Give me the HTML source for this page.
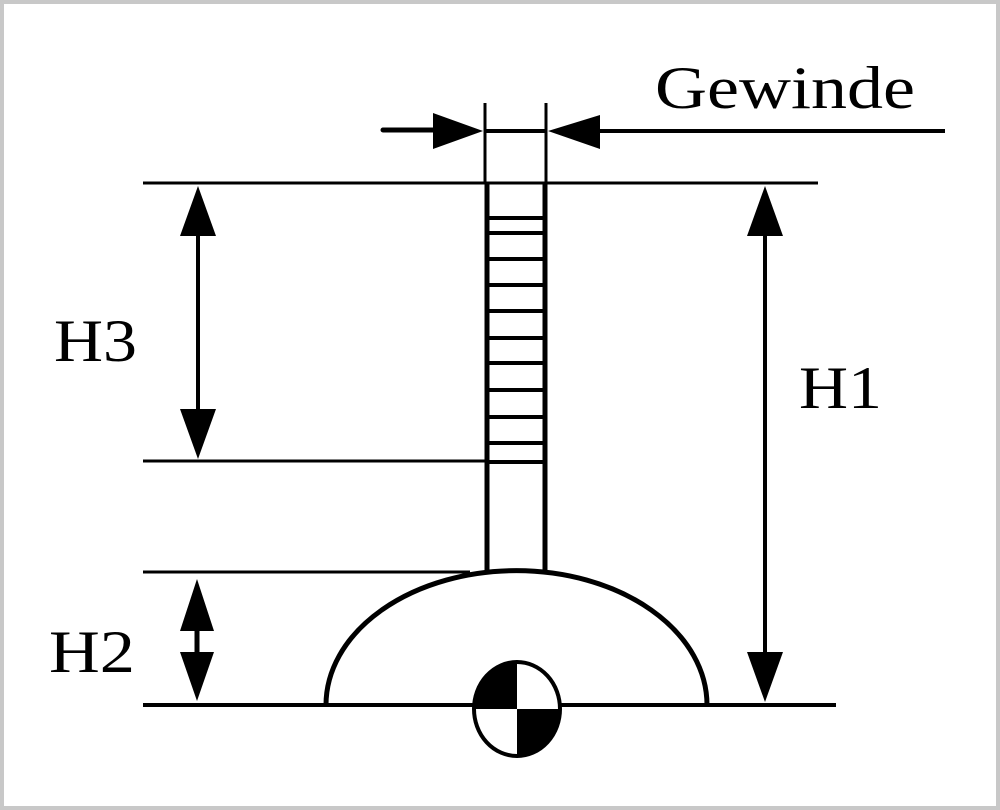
<!DOCTYPE html>
<html><head><style>
html,body{margin:0;padding:0;background:#fff;}
svg{display:block;}
</style></head><body>
<svg width="1000" height="810" viewBox="0 0 1000 810" xmlns="http://www.w3.org/2000/svg">
<rect x="0" y="0" width="1000" height="810" fill="#c8c8c8"/>
<rect x="4" y="4" width="992" height="802" fill="#fff"/>
<g stroke="#000" fill="none" stroke-linecap="butt">
<line x1="143" y1="183" x2="818" y2="183" stroke-width="3"/>
<line x1="143" y1="461" x2="487" y2="461" stroke-width="3"/>
<line x1="143" y1="572" x2="470" y2="572" stroke-width="3"/>
<line x1="143" y1="705" x2="836" y2="705" stroke-width="4"/>
<line x1="485" y1="103" x2="485" y2="183" stroke-width="3"/>
<line x1="546" y1="103" x2="546" y2="183" stroke-width="3"/>
<line x1="383" y1="130" x2="440" y2="130" stroke-width="5" stroke-linecap="round"/>
<line x1="485" y1="131" x2="546" y2="131" stroke-width="4"/>
<line x1="590" y1="131" x2="945" y2="131" stroke-width="4"/>
<line x1="487" y1="183" x2="487" y2="572" stroke-width="5"/>
<line x1="545" y1="183" x2="545" y2="572" stroke-width="5"/>
<g stroke-width="4">
<line x1="487" y1="218" x2="545" y2="218"/>
<line x1="487" y1="233" x2="545" y2="233"/>
<line x1="487" y1="259" x2="545" y2="259"/>
<line x1="487" y1="285" x2="545" y2="285"/>
<line x1="487" y1="311" x2="545" y2="311"/>
<line x1="487" y1="338" x2="545" y2="338"/>
<line x1="487" y1="363" x2="545" y2="363"/>
<line x1="487" y1="390" x2="545" y2="390"/>
<line x1="487" y1="417" x2="545" y2="417"/>
<line x1="487" y1="443" x2="545" y2="443"/>
<line x1="487" y1="462" x2="545" y2="462"/>
</g>
<path d="M326,705 A190,134 0 0 1 707,705" stroke-width="5"/>
<line x1="198" y1="230" x2="198" y2="415" stroke-width="4"/>
<line x1="765" y1="230" x2="765" y2="660" stroke-width="4"/>
<line x1="197" y1="630" x2="197" y2="653" stroke-width="5"/>
</g>
<g fill="#000">
<polygon points="483,131 433,113 433,149"/>
<polygon points="548,131 600,115 600,149"/>
<polygon points="198,186 180,236 216,236"/>
<polygon points="198,459 180,409 216,409"/>
<polygon points="765,186 747,236 783,236"/>
<polygon points="765,702 747,652 783,652"/>
<polygon points="197,579 180,631 214,631"/>
<polygon points="197,701 180,652 214,652"/>
</g>
<ellipse cx="517" cy="709" rx="43" ry="47" fill="#fff" stroke="#000" stroke-width="4"/>
<path d="M517,709 L517,662 A43,47 0 0 0 474,709 Z" fill="#000"/>
<path d="M517,709 L560,709 A43,47 0 0 1 517,756 Z" fill="#000"/>
<g font-family="Liberation Serif, serif" font-size="60" fill="#000">
<text x="655" y="108" textLength="260" lengthAdjust="spacingAndGlyphs">Gewinde</text>
<text x="54" y="361" textLength="83" lengthAdjust="spacingAndGlyphs">H3</text>
<text x="799" y="408" textLength="83" lengthAdjust="spacingAndGlyphs">H1</text>
<text x="49" y="672" textLength="86" lengthAdjust="spacingAndGlyphs">H2</text>
</g>
</svg>
</body></html>
